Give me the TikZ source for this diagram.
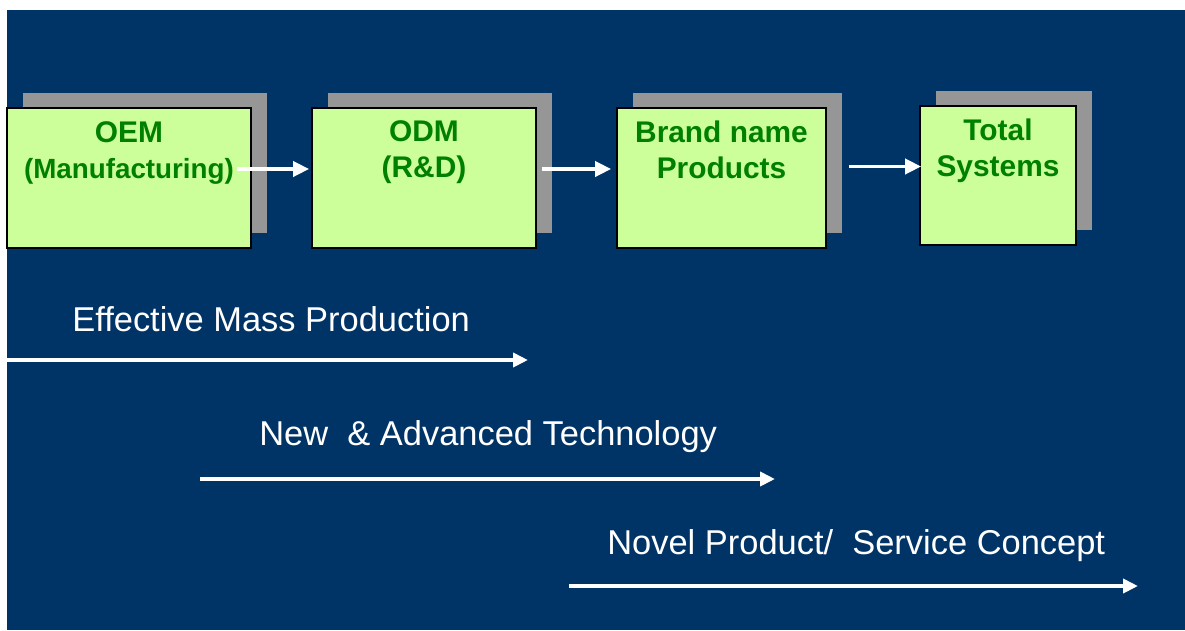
\documentclass[tikz,border=0pt]{standalone}
\usepackage{fontspec}
\setmainfont{Liberation Sans}
\usetikzlibrary{arrows.meta,positioning,shadows}

\definecolor{bgblue}{RGB}{0,51,102}
\definecolor{stagefill}{RGB}{204,255,153}
\definecolor{stagegreen}{RGB}{0,128,0}
\definecolor{shadowgray}{RGB}{150,150,150}

\tikzset{
  stage/.style={draw=black, line width=1pt, fill=stagefill, inner sep=0pt,
    general shadow={fill=shadowgray, shadow xshift=0.32cm, shadow yshift=0.31cm}},
  stagetext/.style={text=stagegreen, font=\bfseries\fontsize{17}{20}\selectfont,
    align=center, inner sep=0pt, anchor=base},
  flow/.style={draw=white, line width=2.1pt, -{Triangle[length=0.32cm,width=0.3cm]}},
  trend/.style={draw=white, line width=2.3pt, -{Triangle[length=0.3cm,width=0.28cm]}},
  trendtext/.style={text=white, font=\fontsize{19.6}{23}\selectfont,
    inner sep=0pt, anchor=base west},
}

\begin{document}
\begin{tikzpicture}
    \useasboundingbox (0,0) rectangle (23.7,12.6);
    % background
    \fill[bgblue] (0.14,0) rectangle (23.7,12.4);

    % draw stage boxes
    \node[stage, minimum width=4.88cm, minimum height=2.8cm] (oem) at (2.58,9.04) {};
    \node[stage, minimum width=4.48cm, minimum height=2.8cm] (odm) at (8.48,9.04) {};
    \node[stage, minimum width=4.18cm, minimum height=2.8cm] (brand) at (14.43,9.04) {};
    \node[stage, minimum width=3.12cm, minimum height=2.78cm] (total) at (19.96,9.09) {};

    % box texts (base = last line)
    \node[stagetext] (oemtext) at ([yshift=-1.42cm]oem.north)
      {OEM\\{\fontsize{15.8}{20}\selectfont(Manufacturing)}};
    \node[stagetext] (odmtext) at ([yshift=-1.4cm]odm.north) {ODM\\(R\&D)};
    \node[stagetext] (brandtext) at ([yshift=-1.42cm]brand.north) {Brand name\\Products};
    \node[stagetext] (totaltext) at ([yshift=-1.42cm]total.north) {Total\\Systems};

    % draw arrows between boxes
    \draw[flow] ([xshift=-0.3cm,yshift=0.18cm]oem.east) -- ([xshift=-0.04cm,yshift=0.18cm]odm.west);
    \draw[flow] ([xshift=0.1cm,yshift=0.18cm]odm.east) -- ([xshift=-0.1cm,yshift=0.18cm]brand.west);
    \draw[flow] ([xshift=0.44cm,yshift=0.23cm]brand.east) -- ([xshift=0.04cm,yshift=0.18cm]total.west);

    % trends
    \node[trendtext] (mass) at (1.44,5.98) {Effective Mass Production};
    \coordinate (masstail) at (0.14,5.4);
    \coordinate (masshead) at (10.56,5.4);
    \draw[trend] (masstail) -- (masshead);

    \node[trendtext] (tech) at (5.18,3.7) {New \ \& Advanced Technology};
    \coordinate (techtail) at (4.0,3.02);
    \coordinate (techhead) at (15.5,3.02);
    \draw[trend] (techtail) -- (techhead);

    \node[trendtext] (novel) at (12.14,1.52) {Novel Product/ \ Service Concept};
    \coordinate (noveltail) at (11.38,0.88);
    \coordinate (novelhead) at (22.76,0.88);
    \draw[trend] (noveltail) -- (novelhead);
\end{tikzpicture}
\end{document}
